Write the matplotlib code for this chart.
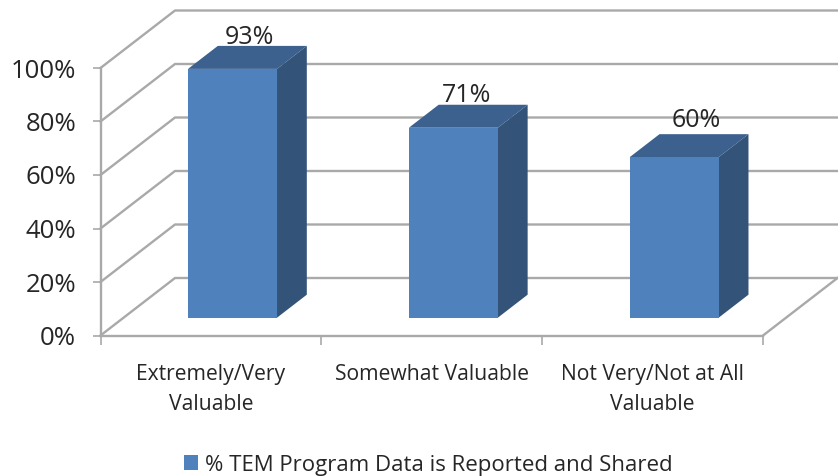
import matplotlib
matplotlib.use("Agg")
import matplotlib.pyplot as plt
import numpy as np

categories = ["Extremely/Very\nValuable", "Somewhat Valuable", "Not Very/Not at All\nValuable"]
values = [93, 71, 60]
value_labels = ["93%", "71%", "60%"]
y_ticks = [0, 20, 40, 60, 80, 100]
y_labels = ["0%", "20%", "40%", "60%", "80%", "100%"]
series_name = "% TEM Program Data is Reported and Shared"

W, H = 838, 476
fig = plt.figure(figsize=(W / 100, H / 100), dpi=100, facecolor="white")
L, R, B, T = 100.5, 763, 335.5, 68
ax = fig.add_axes([L / W, 1 - B / H, (R - L) / W, (B - T) / H])
ax.set_xlim(0, 3)
ax.set_ylim(0, 100)
ax.patch.set_visible(False)

px_x = (R - L) / 3
px_y = (B - T) / 100
DX, DY = 74.5, 57.5
GRID = "#a9a9a9"
TEXT = "#262626"
FONT = "Open Sans"


def proj(x, v, d):
    return x + d * DX / px_x, v + d * DY / px_y


# back wall and floor
for v in y_ticks:
    pts = [proj(0, v, 0), proj(0, v, 1), proj(3, v, 1)]
    ax.plot(*zip(*pts), color=GRID, lw=1.7, clip_on=False, zorder=1)
ax.plot(*zip(proj(3, 0, 0), proj(3, 0, 1)), color=GRID, lw=1.7, clip_on=False, zorder=1)

# bars
FRONT, TOP, SIDE = "#4f81bd", "#3c618f", "#335379"
d0, d1 = 0.31, 0.71
bw = 89 / px_x
centers = np.arange(3) + 0.5
bar_centers = centers - 1.5 / px_x
for c, v in zip(bar_centers, values):
    xl, xr = c - bw / 2, c + bw / 2
    top = [proj(xl, v, d0), proj(xr, v, d0), proj(xr, v, d1), proj(xl, v, d1)]
    side = [proj(xr, 0, d0), proj(xr, 0, d1), proj(xr, v, d1), proj(xr, v, d0)]
    ax.fill(*zip(*top), color=TOP, lw=0, clip_on=False, zorder=3)
    ax.fill(*zip(*side), color=SIDE, lw=0, clip_on=False, zorder=3)
fx, fb = proj(bar_centers, 0, d0)
bars = ax.bar(fx, values, width=bw, bottom=fb, color=FRONT, lw=0, clip_on=False,
              zorder=4, label=series_name)

# value labels (horizontal and vertical nudges in points)
nudges = [(-10, -3), (-13, -2), (-7, 1)]
for c, v, s, n in zip(centers, values, value_labels, nudges):
    x, y = proj(c, v, d1)
    ax.annotate(s, (x, y), xytext=n, textcoords="offset points", ha="center", va="bottom",
                fontsize=18, family=FONT, color=TEXT, annotation_clip=False, zorder=5)

# axes
for s in ("top", "right"):
    ax.spines[s].set_visible(False)
for s in ("left", "bottom"):
    ax.spines[s].set_color(GRID)
    ax.spines[s].set_linewidth(1.7)
    ax.spines[s].set_zorder(2)
ax.set_yticks(y_ticks, y_labels, fontsize=18.5, family=FONT, color=TEXT)
ax.tick_params(axis="y", length=5.5, width=1.2, color=GRID, pad=12)
ax.set_xticks([0, 1, 2, 3], [])
ax.tick_params(axis="x", which="major", length=6.5, width=1.2, color=GRID)
ax.set_xticks(centers, categories, minor=True, fontsize=15.2, family=FONT, color=TEXT,
              linespacing=1.55)
ax.tick_params(axis="x", which="minor", length=0, pad=20.5)

leg = fig.legend(handles=[bars], labels=[series_name], loc="center",
                 bbox_to_anchor=(428.5 / W, 1 - 465 / H), frameon=False,
                 prop={"family": FONT, "size": 16}, labelcolor=TEXT,
                 handlelength=0.63, handleheight=0.63, handletextpad=0.3)

fig.savefig("out.png", dpi=100, facecolor="white")
